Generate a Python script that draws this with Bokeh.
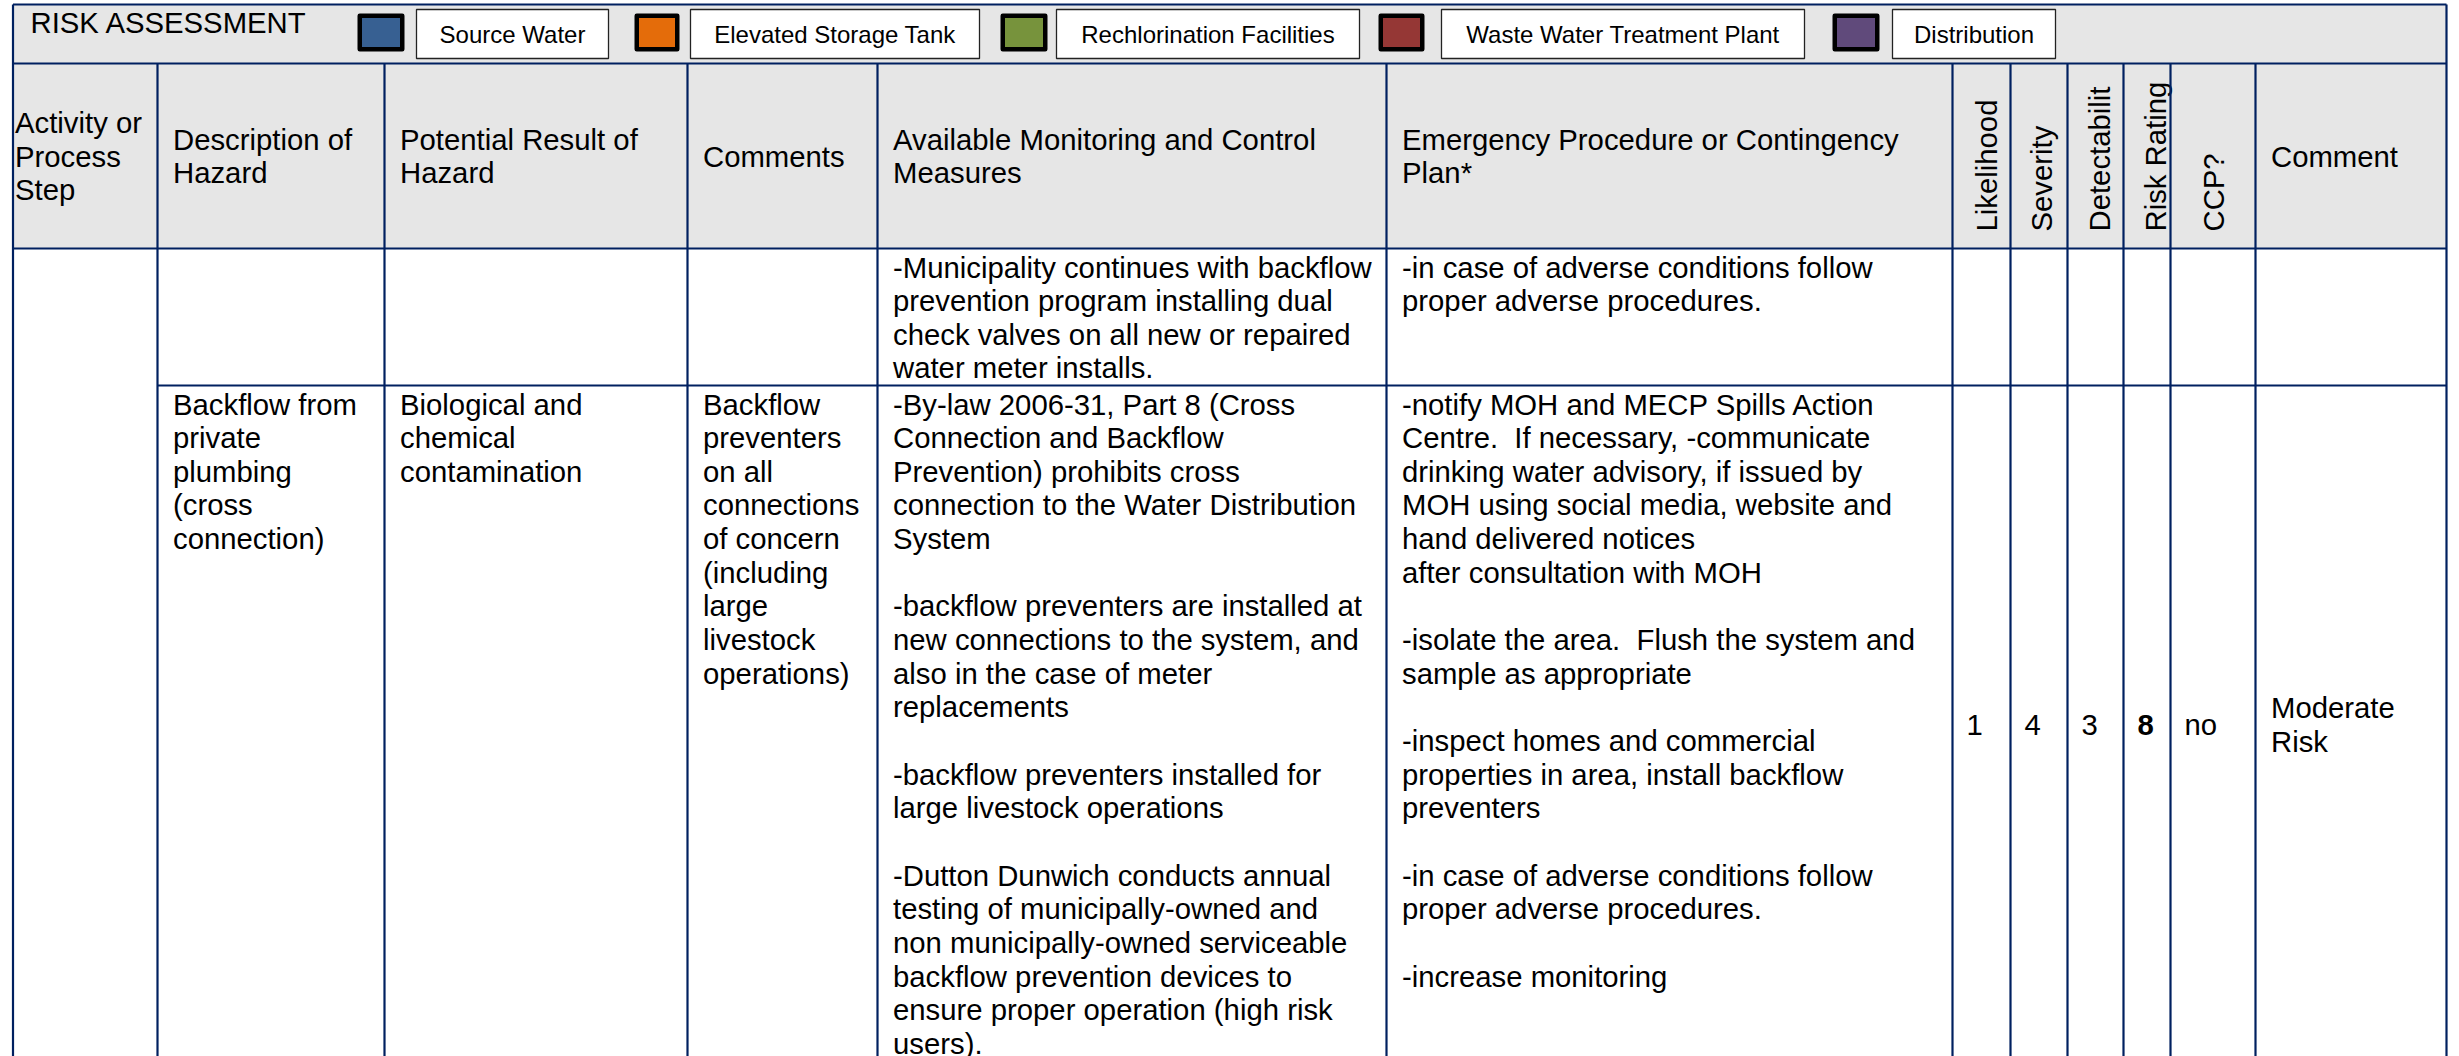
import numpy as np
from bokeh.plotting import figure
from bokeh.models import Range1d, ColumnDataSource
from bokeh.core.properties import value
from bokeh.embed import file_html
from bokeh.resources import INLINE

# ---------------- data ----------------
title = "RISK ASSESSMENT"
legend_labels = ["Source Water", "Elevated Storage Tank", "Rechlorination Facilities",
                 "Waste Water Treatment Plant", "Distribution"]
legend_colors = ["#376092", "#E46C0A", "#77933C", "#953735", "#604A7B"]

header_labels = [
    ["Activity or", "Process", "Step"],
    ["Description of", "Hazard"],
    ["Potential Result of", "Hazard"],
    ["Comments"],
    ["Available Monitoring and Control", "Measures"],
    ["Emergency Procedure or Contingency", "Plan*"],
]
header_vertical = ["Likelihood", "Severity", "Detectabilit", "Risk Rating", "CCP?"]
header_comment = ["Comment"]

activity = [[], []]
description = [[], ["Backflow from", "private", "plumbing", "(cross", "connection)"]]
potential_result = [[], ["Biological and", "chemical", "contamination"]]
comments = [[], ["Backflow", "preventers", "on all", "connections", "of concern",
                 "(including", "large", "livestock", "operations)"]]
monitoring = [
    ["-Municipality continues with backflow", "prevention program installing dual",
     "check valves on all new or repaired", "water meter installs."],
    ["-By-law 2006-31, Part 8 (Cross", "Connection and Backflow",
     "Prevention) prohibits cross", "connection to the Water Distribution", "System", "",
     "-backflow preventers are installed at", "new connections to the system, and",
     "also in the case of meter", "replacements", "",
     "-backflow preventers installed for", "large livestock operations", "",
     "-Dutton Dunwich conducts annual", "testing of municipally-owned and",
     "non municipally-owned serviceable", "backflow prevention devices to",
     "ensure proper operation (high risk", "users)."],
]
emergency = [
    ["-in case of adverse conditions follow", "proper adverse procedures."],
    ["-notify MOH and MECP Spills Action", "Centre.\u00a0 If necessary, -communicate",
     "drinking water advisory, if issued by", "MOH using social media, website and",
     "hand delivered notices", "after consultation with MOH", "",
     "-isolate the area.\u00a0 Flush the system and", "sample as appropriate", "",
     "-inspect homes and commercial", "properties in area, install backflow",
     "preventers", "", "-in case of adverse conditions follow",
     "proper adverse procedures.", "", "-increase monitoring"],
]
likelihood = ["", "1"]
severity = ["", "4"]
detectability = ["", "3"]
risk_rating = ["", "8"]
ccp = ["", "no"]
row_comment = [[], ["Moderate", "Risk"]]

# ---------------- layout / style ----------------
FONT = "Liberation Sans"
BODY = "29.3px"
NAVY = "#002060"
GRAY = "#E6E6E6"
W, H = 2459, 1056
col_edges = [12.5, 157, 384, 687, 877, 1386, 1952, 2010, 2067, 2123, 2170, 2255, 2446]
y_top, y_title, y_head, y_rows = 4, 63, 248, [248, 385, 1063]
pad, first_off, pitch = 15.5, 18.5, 33.65
sq_x = [[357, 404], [634, 679], [1000, 1047], [1378, 1424], [1832, 1879]]
box_x = [[416, 608], [690, 979], [1056, 1359], [1441, 1804], [1892, 2055]]
vert_nudge = [4.5, 2.5, 4, 8.5, 0]

p = figure(width=W, height=H, x_range=Range1d(0, W), y_range=Range1d(H, 0),
           output_backend="svg", toolbar_location=None, min_border=0,
           x_axis_location=None, y_axis_location=None)
p.grid.visible = False
p.outline_line_color = None
p.background_fill_color = "white"
p.border_fill_color = "white"

# backgrounds
p.quad(left=[col_edges[0]], right=[col_edges[-1]], top=[y_top], bottom=[y_head],
       fill_color=GRAY, line_color=None)

# legend squares and label boxes
sq_cx = [(a + b) / 2 for a, b in sq_x]
sq_w = [(b - a) - 4.5 for a, b in sq_x]
p.rect(x=sq_cx, y=[32] * len(sq_cx), width=sq_w, height=[33.5] * len(sq_cx),
       fill_color=legend_colors, line_color="black", line_width=4.5, line_join="round")
bx_l = [a for a, b in box_x]
bx_r = [b for a, b in box_x]
p.quad(left=bx_l, right=bx_r, top=[9] * 5, bottom=[58] * 5,
       fill_color="white", line_color="#222222", line_width=1.3)


def put(xs, ys, texts, size=BODY, align="left", style="normal", angle=0.0):
    src = ColumnDataSource(dict(x=xs, y=ys, t=texts))
    p.text("x", "y", "t", source=src, text_font=value(FONT), text_font_size=size,
           text_align=align, text_baseline="middle", text_font_style=style,
           angle=angle, text_color="black")


# title + legend text
put([30], [22], [title])
put([(a + b) / 2 for a, b in box_x], [33.5] * 5, legend_labels, size="24px", align="center")

# header text (horizontal)
head_mid = (y_title + y_head) / 2
hx, hy, ht = [], [], []
for c, lines in enumerate(header_labels + [header_comment]):
    col = c if c < len(header_labels) else 11
    x0 = col_edges[col] + (2 if col == 0 else pad)
    n = len(lines)
    for i, s in enumerate(lines):
        hx.append(x0)
        hy.append(head_mid + (i - (n - 1) / 2) * pitch)
        ht.append(s)
put(hx, hy, ht)

# header text (vertical)
vx = [(col_edges[6 + i] + col_edges[7 + i]) / 2 + vert_nudge[i] for i in range(5)]
put(vx, [231] * 5, header_vertical, angle=np.pi / 2)

# body text (top-aligned cells)
bx, by, bt = [], [], []
for col, cell in [(0, activity), (1, description), (2, potential_result), (3, comments),
                  (4, monitoring), (5, emergency)]:
    for r, lines in enumerate(cell):
        for i, s in enumerate(lines):
            if s:
                bx.append(col_edges[col] + pad)
                by.append(y_rows[r] + first_off + i * pitch)
                bt.append(s)
put(bx, by, bt)

# scores (vertically centred)
nx, ny, nt, rx, ry, rt = [], [], [], [], [], []
for col, vals in [(6, likelihood), (7, severity), (8, detectability), (10, ccp)]:
    for r, v in enumerate(vals):
        if v:
            nx.append(col_edges[col] + 14)
            ny.append((y_rows[r] + y_rows[r + 1]) / 2)
            nt.append(v)
for r, v in enumerate(risk_rating):
    if v:
        rx.append(col_edges[9] + 14)
        ry.append((y_rows[r] + y_rows[r + 1]) / 2)
        rt.append(v)
for r, lines in enumerate(row_comment):
    n = len(lines)
    for i, s in enumerate(lines):
        nx.append(col_edges[11] + pad)
        ny.append((y_rows[r] + y_rows[r + 1]) / 2 + (i - (n - 1) / 2) * pitch)
        nt.append(s)
put(nx, ny, nt)
put(rx, ry, rt, style="bold")

# grid lines
x0s, y0s, x1s, y1s = [], [], [], []
for xe in [col_edges[0], col_edges[-1]]:
    x0s.append(xe); x1s.append(xe); y0s.append(y_top); y1s.append(y_rows[-1])
for xe in col_edges[1:-1]:
    x0s.append(xe); x1s.append(xe); y0s.append(y_title); y1s.append(y_rows[-1])
for ye in [y_top, y_title, y_head]:
    x0s.append(col_edges[0]); x1s.append(col_edges[-1]); y0s.append(ye); y1s.append(ye)
x0s.append(col_edges[1]); x1s.append(col_edges[-1]); y0s.append(y_rows[1]); y1s.append(y_rows[1])
p.segment(x0=x0s, y0=y0s, x1=x1s, y1=y1s, line_color=NAVY, line_width=2.2)

open("out.html", "w").write(file_html(p, INLINE))
